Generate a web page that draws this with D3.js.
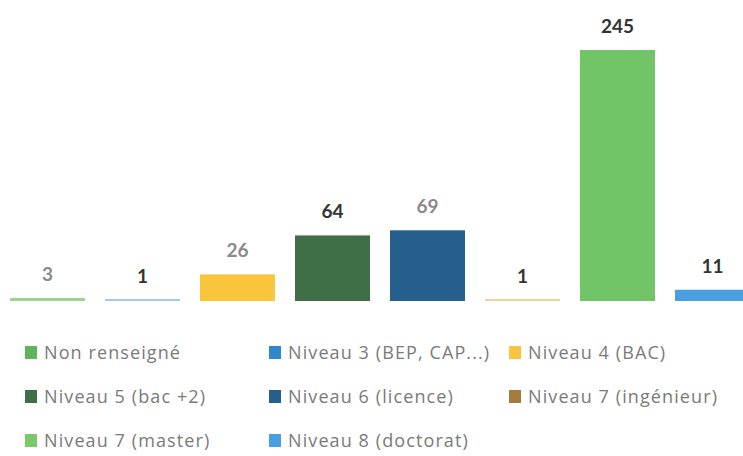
<!DOCTYPE html>
<html><head><meta charset="utf-8">
<script src="https://cdn.jsdelivr.net/npm/d3@7"></script>
<style>body{margin:0;background:#fff;overflow:hidden}svg{display:block}</style>
</head><body>
<script>
const categories = ["Non renseigné","Niveau 3 (BEP, CAP...)","Niveau 4 (BAC)","Niveau 5 (bac +2)","Niveau 6 (licence)","Niveau 7 (ingénieur)","Niveau 7 (master)","Niveau 8 (doctorat)"];
const values = [3,1,26,64,69,1,245,11];
const legendColors = ["#5fb65a","#2f86d1","#f8c53d","#3f6e47","#265f8e","#a27d3e","#7cc86c","#4a9ee2"];
const barColors = ["#9fd490","#a3c9ef","#f8c53d","#3f6e47","#265f8e","#e6d49c","#72c566","#4a9ee2"];
const labelColors = ["#8a8a8a","#333333","#8a8a8a","#333333","#8a8a8a","#333333","#333333","#333333"];

const W = 743, H = 456;
const svg = d3.select("body").append("svg").attr("width", W).attr("height", H);
const labelFont = "Lato, 'Open Sans', sans-serif";
const legendFont = "'Open Sans', Lato, sans-serif";

const x = d3.scaleBand().domain(categories).range([10, 750]).paddingInner(0.2105).paddingOuter(0);
const y = d3.scaleLinear().domain([0, 245]).range([301, 50]);

svg.selectAll("rect.bar").data(categories).enter().append("rect")
  .attr("class","bar")
  .attr("x", d => x(d))
  .attr("width", x.bandwidth())
  .attr("y", (d,i) => Math.min(y(values[i]), y(0) - 2))
  .attr("height", (d,i) => Math.max(y(0) - y(values[i]), 2))
  .attr("fill", (d,i) => barColors[i]);

svg.selectAll("text.lbl").data(categories).enter().append("text")
  .attr("class","lbl")
  .attr("x", d => x(d) + x.bandwidth()/2)
  .attr("y", (d,i) => y(values[i]) - 17)
  .attr("text-anchor","middle")
  .attr("font-family", labelFont)
  .attr("font-size", 19)
  .attr("font-weight", "bold")
  .attr("fill", (d,i) => labelColors[i])
  .text((d,i) => values[i]);

const colX = [25, 269, 509];
const rowY = [353, 397, 441];
const lg = svg.selectAll("g.leg").data(categories).enter().append("g")
  .attr("class","leg")
  .attr("transform", (d,i) => `translate(${colX[i%3]},${rowY[Math.floor(i/3)]})`);
lg.append("rect").attr("x",0).attr("y",-7).attr("width",12).attr("height",13)
  .attr("fill",(d,i)=>legendColors[i]);
lg.append("text").attr("x",19).attr("y",6)
  .attr("font-family", legendFont).attr("font-size",18).attr("letter-spacing",1.1)
  .attr("fill","#7a7a7a")
  .text(d=>d);
</script>
</body></html>
